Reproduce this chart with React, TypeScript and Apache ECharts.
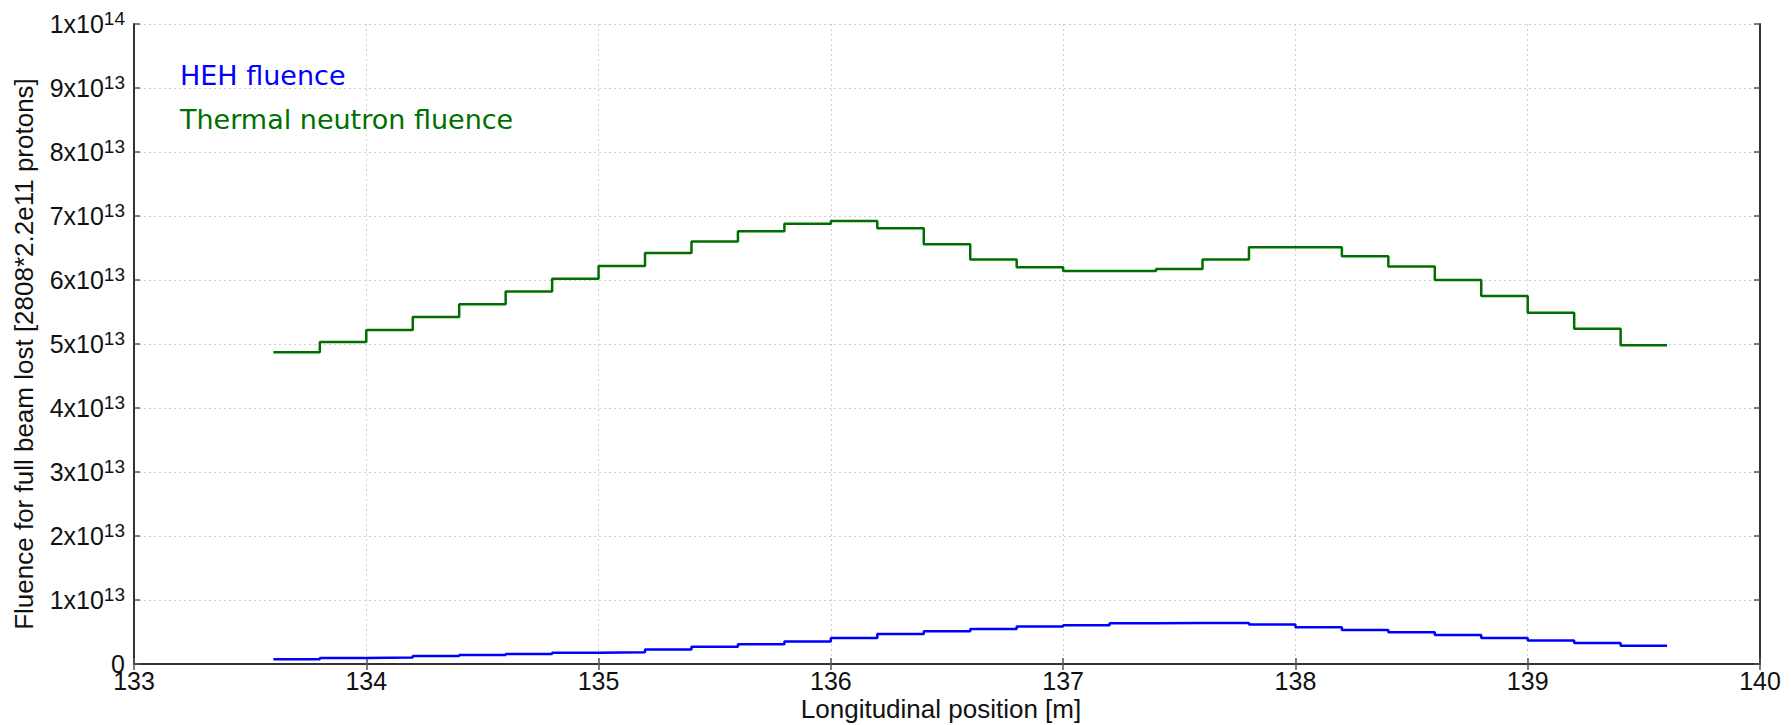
import React, { useEffect, useRef } from "react";
import * as echarts from "echarts";

const binEdges = [
  133.6, 133.8, 134.0, 134.2, 134.4, 134.6, 134.8, 135.0, 135.2, 135.4, 135.6,
  135.8, 136.0, 136.2, 136.4, 136.6, 136.8, 137.0, 137.2, 137.4, 137.6,
  137.8, 138.0, 138.2, 138.4, 138.6, 138.8, 139.0, 139.2, 139.4, 139.6,
];

// values per bin, in units of 1e13
const thermalFluence = [
  4.87, 5.03, 5.22, 5.42, 5.62, 5.82, 6.02, 6.22, 6.42, 6.6, 6.76, 6.88, 6.92,
  6.81, 6.56, 6.32, 6.2, 6.14, 6.14, 6.17, 6.32, 6.51, 6.51, 6.37, 6.21, 6.0,
  5.75, 5.49, 5.24, 4.98,
];

const hehFluence = [
  0.073, 0.094, 0.1, 0.125, 0.14, 0.156, 0.177, 0.184, 0.226, 0.268, 0.31,
  0.353, 0.405, 0.468, 0.51, 0.547, 0.584, 0.605, 0.635, 0.64, 0.642, 0.616,
  0.574, 0.53, 0.495, 0.453, 0.405, 0.368, 0.33, 0.284,
];

const SCALE = 1e13;

const xTitle = "Longitudinal position [m]";
const yTitle = "Fluence for full beam lost [2808*2.2e11 protons]";
const legendItems = ["HEH fluence", "Thermal neutron fluence"];
const colors = ["#0000ff", "#006e00"];

function stepData(values: number[]) {
  const pts: [number, number][] = values.map((v, i) => [binEdges[i], v * SCALE]);
  pts.push([binEdges[binEdges.length - 1], values[values.length - 1] * SCALE]);
  return pts;
}

export default function App() {
  const ref = useRef<HTMLDivElement>(null);
  useEffect(() => {
    if (!ref.current) return;
    const chart = echarts.init(ref.current, undefined, { renderer: "svg" });
    const labelFont = "'Liberation Sans', Arial, sans-serif";
    const axisLineStyle = { color: "#333", width: 2 };
    const tickStyle = { color: "#555", width: 1.5 };
    const gridStyle = { color: "#d0d0d0", type: [2, 3], width: 1 };
    const yFormatter = (v: number) => {
      if (v === 0) return "0";
      const exp = Math.floor(Math.log10(v) + 1e-9);
      const mant = Math.round(v / Math.pow(10, exp));
      return `${mant}x10{sup|${exp}}`;
    };
    chart.setOption({
      animation: false,
      backgroundColor: "#fff",
      grid: { left: 134, right: 31, top: 24, bottom: 61, containLabel: false },
      xAxis: [
        {
          type: "value",
          min: 133,
          max: 140,
          interval: 1,
          position: "bottom",
          axisLine: { show: true, lineStyle: axisLineStyle },
          axisTick: { show: true, inside: true, length: 6, lineStyle: tickStyle },
          axisLabel: {
            color: "#111",
            fontFamily: labelFont,
            fontSize: 25,
            margin: 4,
          },
          splitLine: { show: true, lineStyle: gridStyle },
        },
        {
          type: "value",
          min: 133,
          max: 140,
          interval: 1,
          position: "top",
          axisLine: { show: true, lineStyle: axisLineStyle },
          axisTick: { show: true, inside: true, length: 6, lineStyle: tickStyle },
          axisLabel: { show: false },
          splitLine: { show: false },
        },
      ],
      yAxis: [
        {
          type: "value",
          min: 0,
          max: 1e14,
          interval: 1e13,
          position: "left",
          axisLine: { show: true, lineStyle: axisLineStyle },
          axisTick: { show: true, inside: true, length: 6, lineStyle: tickStyle },
          axisLabel: {
            color: "#111",
            fontFamily: labelFont,
            fontSize: 25,
            margin: 9,
            formatter: yFormatter,
            rich: {
              sup: {
                fontSize: 19,
                fontFamily: labelFont,
                color: "#111",
                verticalAlign: "top",
                padding: [0, 0, 12, 0],
              },
            },
          },
          splitLine: { show: true, lineStyle: gridStyle },
        },
        {
          type: "value",
          min: 0,
          max: 1e14,
          interval: 1e13,
          position: "right",
          axisLine: { show: true, lineStyle: axisLineStyle },
          axisTick: { show: true, inside: true, length: 6, lineStyle: tickStyle },
          axisLabel: { show: false },
          splitLine: { show: false },
        },
      ],
      series: [
        {
          name: legendItems[0],
          type: "line",
          step: "end",
          data: stepData(hehFluence),
          showSymbol: false,
          lineStyle: { color: colors[0], width: 2.5 },
          itemStyle: { color: colors[0] },
          z: 3,
        },
        {
          name: legendItems[1],
          type: "line",
          step: "end",
          data: stepData(thermalFluence),
          showSymbol: false,
          lineStyle: { color: colors[1], width: 2.5 },
          itemStyle: { color: colors[1] },
          z: 3,
        },
      ],
      graphic: [
        {
          type: "text",
          x: 180,
          y: 75,
          style: {
            text: legendItems[0],
            fill: colors[0],
            font: "27px 'DejaVu Sans', sans-serif",
            verticalAlign: "middle",
          },
        },
        {
          type: "text",
          x: 180,
          y: 119,
          style: {
            text: legendItems[1],
            fill: colors[1],
            font: "27px 'DejaVu Sans', sans-serif",
            verticalAlign: "middle",
          },
        },
        {
          type: "text",
          x: 24,
          y: 354,
          rotation: Math.PI / 2,
          style: {
            text: yTitle,
            fill: "#111",
            font: `26px ${labelFont}`,
            align: "center",
            verticalAlign: "middle",
          },
        },
        {
          type: "text",
          x: 941,
          y: 709,
          style: {
            text: xTitle,
            fill: "#111",
            font: `26px ${labelFont}`,
            align: "center",
            verticalAlign: "middle",
          },
        },
      ],
    });
    return () => chart.dispose();
  }, []);
  return <div ref={ref} style={{ width: 1791, height: 725, position: "absolute", left: 0, top: 0 }} />;
}
